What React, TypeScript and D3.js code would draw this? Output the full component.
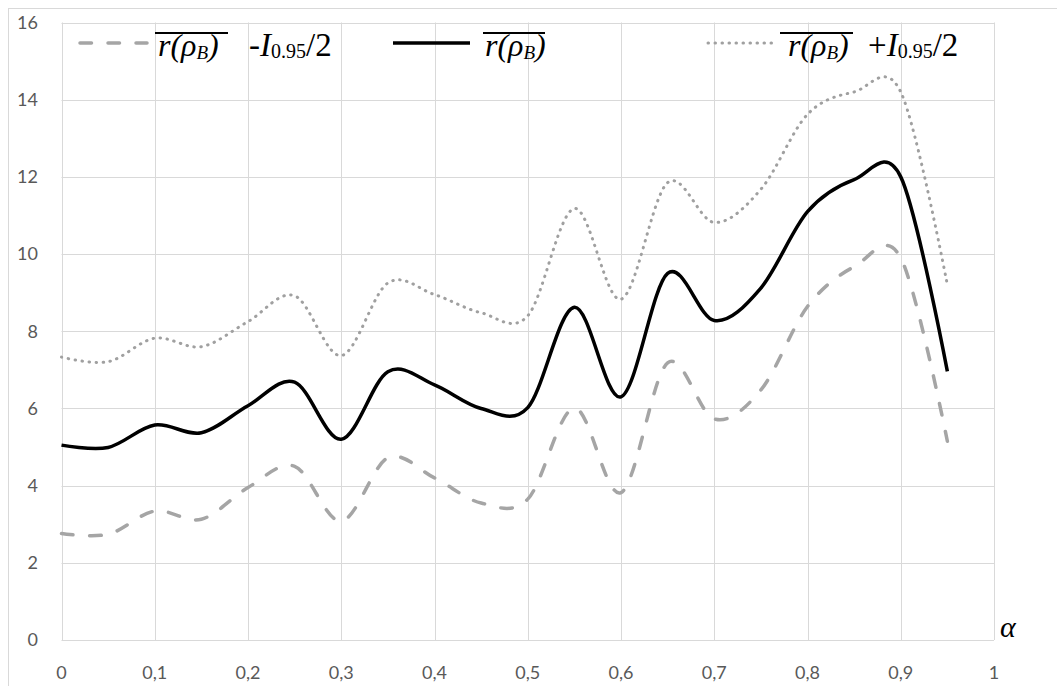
import React, { useEffect, useRef } from "react";
import * as d3 from "d3";

const alphas = [0, 0.05, 0.1, 0.15, 0.2, 0.25, 0.3, 0.35, 0.4, 0.45, 0.5, 0.55, 0.6, 0.65, 0.7, 0.75, 0.8, 0.85, 0.9, 0.95];
const lowerValues = [2.76, 2.74, 3.34, 3.13, 3.95, 4.5, 3.08, 4.72, 4.2, 3.55, 3.65, 6.01, 3.82, 7.18, 5.73, 6.48, 8.64, 9.67, 9.9, 5.15];
const meanValues = [5.05, 4.99, 5.57, 5.37, 6.07, 6.68, 5.2, 6.95, 6.61, 6.0, 6.02, 8.62, 6.3, 9.5, 8.28, 9.12, 11.1, 11.93, 12.0, 6.96];
const upperValues = [7.33, 7.21, 7.82, 7.6, 8.25, 8.92, 7.37, 9.25, 8.95, 8.48, 8.4, 11.18, 8.83, 11.85, 10.82, 11.68, 13.62, 14.2, 14.2, 9.2];

const xTickValues = [0, 0.1, 0.2, 0.3, 0.4, 0.5, 0.6, 0.7, 0.8, 0.9, 1];
const xTickLabels = ["0", "0,1", "0,2", "0,3", "0,4", "0,5", "0,6", "0,7", "0,8", "0,9", "1"];
const yTickValues = [0, 2, 4, 6, 8, 10, 12, 14, 16];

const W = 1057;
const H = 686;
const plot = { left: 61.5, right: 994, top: 22.5, bottom: 640 };

const GRID = "#D9D9D9";
const GRAY = "#A5A5A5";
const LABEL = "#595959";
const SERIF = "'Liberation Serif', 'Times New Roman', serif";
const SANS = "Lato, 'Open Sans', sans-serif";

const x = d3.scaleLinear().domain([0, 1]).range([plot.left, plot.right]);
const y = d3.scaleLinear().domain([0, 16]).range([plot.bottom, plot.top]);

const makeLine = (vals: number[]) =>
  d3
    .line<number>()
    .x((_, i) => x(alphas[i]))
    .y((v) => y(v))
    .curve(d3.curveCardinal.tension(0))(vals) || "";

const dashedStyle = { stroke: GRAY, strokeWidth: 3.5, strokeDasharray: "11.5 16.5", strokeLinecap: "round" as const };
const solidStyle = { stroke: "#000", strokeWidth: 3.5, strokeLinecap: "butt" as const };
const dottedStyle = { stroke: "#A0A0A0", strokeWidth: 3, strokeDasharray: "0.5 6.5", strokeLinecap: "round" as const };

function RMean({ x0, base, over0, over1 }: { x0: number; base: number; over0: number; over1: number }) {
  return (
    <g>
      <line x1={over0} x2={over1} y1={33} y2={33} stroke="#000" strokeWidth={2} />
      <text x={x0} y={base} fontFamily={SERIF} fontStyle="italic" fontSize={32} fill="#000">
        r(ρ
        <tspan fontSize={19} dy={3}>B</tspan>
        <tspan dy={-3}>)</tspan>
      </text>
    </g>
  );
}

function Interval({ x0, base, sign }: { x0: number; base: number; sign: string }) {
  return (
    <text x={x0} y={base} fontFamily={SERIF} fontSize={33} fill="#000">
      {sign}
      <tspan fontStyle="italic">I</tspan>
      <tspan fontSize={20} dy={2}>0.95</tspan>
      <tspan dy={-2}>/2</tspan>
    </text>
  );
}

export default function App() {
  const base = 56;
  const dashRef = useRef<SVGPathElement | null>(null);

  useEffect(() => {
    const p = dashRef.current;
    if (!p) return;
    const L = p.getTotalLength();
    const dash = 11.5;
    const gap = 16.5;
    const n = Math.max(1, Math.round((L - dash) / (dash + gap)));
    const period = (L - dash) / n;
    const k = period / (dash + gap);
    p.setAttribute("stroke-dasharray", `${dash * k} ${gap * k}`);
  }, []);

  return (
    <svg width={W} height={H} style={{ position: "absolute", left: 0, top: 0, background: "#fff" }}>
      <rect x={0} y={0} width={W} height={H} fill="#fff" />
      <rect x={8.5} y={8.5} width={W + 20} height={H + 20} fill="none" stroke={GRID} strokeWidth={1} />
      {/* grid */}
      {yTickValues.map((v) => (
        <line key={"h" + v} x1={plot.left} x2={plot.right} y1={Math.round(y(v)) + 0.5} y2={Math.round(y(v)) + 0.5} stroke={GRID} strokeWidth={1} />
      ))}
      {xTickValues.map((v) => (
        <line key={"v" + v} x1={Math.round(x(v)) + 0.5} x2={Math.round(x(v)) + 0.5} y1={plot.top} y2={plot.bottom} stroke={GRID} strokeWidth={1} />
      ))}
      {/* axis labels */}
      {yTickValues.map((v) => (
        <text key={"yl" + v} x={38} y={y(v)} dy="0.35em" textAnchor="end" fontFamily={SANS} fontSize={18} fill={LABEL}>
          {v}
        </text>
      ))}
      {xTickValues.map((v, i) => (
        <text key={"xl" + v} x={x(v)} y={673} dy="0.35em" textAnchor="middle" fontFamily={SANS} fontSize={18} fill={LABEL}>
          {xTickLabels[i]}
        </text>
      ))}
      <text x={1000} y={637} fontFamily={SERIF} fontStyle="italic" fontSize={30} fill="#000">α</text>
      {/* series */}
      <path ref={dashRef} d={makeLine(lowerValues)} fill="none" {...dashedStyle} />
      <path d={makeLine(upperValues)} fill="none" {...dottedStyle} />
      <path d={makeLine(meanValues)} fill="none" {...solidStyle} />
      {/* legend */}
      <line x1={80} x2={147} y1={43} y2={43} {...dashedStyle} />
      <RMean x0={158} base={base} over0={155} over1={228} />
      <Interval x0={249} base={base} sign="-" />
      <line x1={393} x2={470} y1={43} y2={43} {...solidStyle} />
      <RMean x0={485} base={base} over0={483} over1={545} />
      <line x1={708} x2={773} y1={43} y2={43} {...dottedStyle} />
      <RMean x0={788} base={base} over0={780} over1={853} />
      <Interval x0={868} base={base} sign="+" />
    </svg>
  );
}
